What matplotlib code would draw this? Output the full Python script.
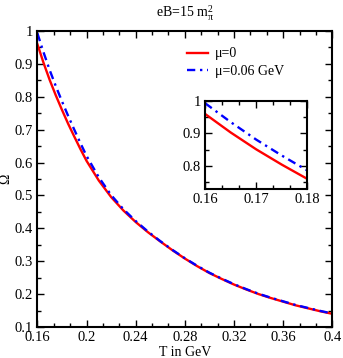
import matplotlib
matplotlib.use("Agg")
import matplotlib.pyplot as plt
from matplotlib.ticker import AutoMinorLocator, FormatStrFormatter, MultipleLocator

# 字體：類 Times 的襯線字體
plt.rcParams['font.family'] = ['Liberation Serif', 'DejaVu Serif']
plt.rcParams['mathtext.fontset'] = 'custom'
plt.rcParams['mathtext.rm'] = 'Liberation Serif'
plt.rcParams['mathtext.it'] = 'Liberation Serif:italic'

# 溫度 (GeV)
T = [0.160, 0.165, 0.170, 0.175, 0.180, 0.185, 0.190, 0.195, 0.200,
     0.21, 0.22, 0.23, 0.24, 0.25, 0.26, 0.27, 0.28, 0.29, 0.30,
     0.31, 0.32, 0.33, 0.34, 0.35, 0.36, 0.37, 0.38, 0.39, 0.40]
# mu = 0
omega_mu0 = [0.960, 0.903, 0.851, 0.804, 0.760, 0.718, 0.679, 0.641, 0.605,
             0.545, 0.495, 0.454, 0.419, 0.388, 0.360, 0.333, 0.308, 0.285,
             0.264, 0.246, 0.229, 0.214, 0.200, 0.188, 0.177, 0.166, 0.157,
             0.148, 0.140]
# mu = 0.06 GeV
omega_mu006 = [0.993, 0.935, 0.881, 0.832, 0.786, 0.742, 0.700, 0.659, 0.620,
               0.555, 0.501, 0.458, 0.422, 0.390, 0.361, 0.334, 0.309, 0.286,
               0.265, 0.247, 0.230, 0.215, 0.201, 0.189, 0.178, 0.167, 0.158,
               0.149, 0.141]

labels = ["\u03bc=0", "\u03bc=0.06 GeV"]

fig = plt.figure(figsize=(3.43, 3.58), dpi=100)
ax = fig.add_axes([0.109, 0.0866, 0.860, 0.827])

ax.plot(T, omega_mu0, color='#ff0000', lw=1.7, label=labels[0])
ax.plot(T, omega_mu006, color='#0000ff', lw=1.7, dashes=(3.5, 2, 1, 2),
        label=labels[1])

ax.set_xlim(0.16, 0.4)
ax.set_ylim(0.1, 1.0)
ax.xaxis.set_major_locator(MultipleLocator(0.04))
ax.xaxis.set_minor_locator(AutoMinorLocator(3))
ax.yaxis.set_major_locator(MultipleLocator(0.1))
ax.yaxis.set_minor_locator(AutoMinorLocator(2))
ax.xaxis.set_major_formatter(FormatStrFormatter('%g'))
ax.yaxis.set_major_formatter(FormatStrFormatter('%g'))


def style_axes(a):
    for s in a.spines.values():
        s.set_linewidth(1.5)
    a.tick_params(which='both', direction='in', top=True, right=True,
                  labelsize=10.5, width=1.0, pad=3)
    a.tick_params(which='major', length=5)
    a.tick_params(which='minor', length=2.8)


style_axes(ax)

ax.set_xlabel("T in GeV", fontsize=10, labelpad=1)
ax.set_ylabel("\u03a9", fontsize=10, labelpad=2)
ax.set_title(r"eB=15 m$_{\mathrm{\pi}}^{2}$", fontsize=10, pad=10)

ax.legend(loc='upper left', bbox_to_anchor=(0.49, 0.963), frameon=False,
          fontsize=10, handlelength=1.5, handletextpad=0.45,
          labelspacing=0.35, borderaxespad=0)

# 放大圖
ins = fig.add_axes([0.598, 0.473, 0.298, 0.245])
ins.plot(T, omega_mu0, color='#ff0000', lw=1.7)
ins.plot(T, omega_mu006, color='#0000ff', lw=1.7, dashes=(3.5, 2, 1, 2))
ins.set_xlim(0.16, 0.18)
ins.set_ylim(0.73, 1.0)
ins.xaxis.set_major_locator(MultipleLocator(0.01))
ins.xaxis.set_minor_locator(AutoMinorLocator(3))
ins.yaxis.set_major_locator(MultipleLocator(0.1))
ins.yaxis.set_minor_locator(AutoMinorLocator(2))
ins.xaxis.set_major_formatter(FormatStrFormatter('%g'))
ins.yaxis.set_major_formatter(FormatStrFormatter('%g'))
style_axes(ins)

fig.savefig("out.png", dpi=100)
